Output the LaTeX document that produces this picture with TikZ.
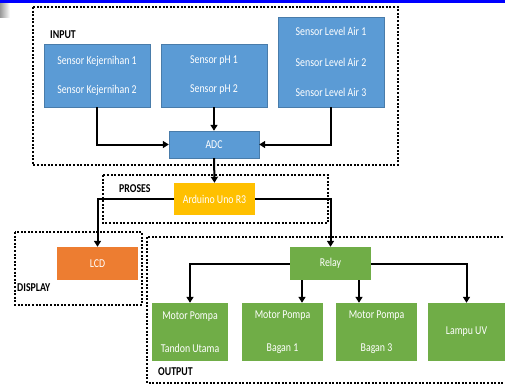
\documentclass[tikz,border=0pt]{standalone}
\usepackage{fontspec}
\setmainfont{Carlito}[FakeStretch=0.82]
\usetikzlibrary{positioning, arrows.meta}
\definecolor{inblue}{HTML}{5B9BD5}
\definecolor{outgreen}{HTML}{70AD47}
\definecolor{lcdorange}{HTML}{ED7D31}
\definecolor{ardyellow}{HTML}{FFC000}
\tikzset{
    font=\fontsize{12}{14}\selectfont,
    block/.style={          % default style for all blocks
        rectangle,
        align=center,
        text=white,
        inner sep=0pt,
    },
    sensor/.style={block, fill=inblue, draw=inblue!80!black, thin},
    outblock/.style={block, fill=outgreen, minimum width=78, minimum height=58},
    group/.style={          % dotted frame around a group
        line width=2pt,
        dash pattern=on 2pt off 1.6pt,
    },
    grouplabel/.style={anchor=west, inner sep=0pt, font=\fontsize{12}{14}\selectfont\bfseries},
    conn/.style={           % default style for all connectors
        draw,
        line width=2pt,
        -{Triangle[length=6pt, width=7pt]}
    }
}
\begin{document}
\begin{tikzpicture}[x=1pt, y=-1pt]
    \clip (0,0) rectangle (505,389);
    \fill[white] (0,0) rectangle (505,389);
    \fill[blue] (0,0) rectangle (505,3);
    \shade[left color=gray!80, right color=white] (0,3) rectangle (10,17);
    % groups
    \draw[group] (33,7) rectangle (398,165);
    \draw[group] (103,175) rectangle (328,223);
    \draw[group] (15,232) rectangle (142,305);
    \draw[group] (147,237) rectangle (512,383);
    \node[grouplabel] (lblin) at (50,35) {INPUT};
    \node[grouplabel] (lblpr) at (119,189) {PROSES};
    \node[grouplabel] (lbldi) at (17,288) {DISPLAY};
    \node[grouplabel] (lblou) at (158,372) {OUTPUT};
    % input
    \node[sensor, minimum width=106, minimum height=63] (kej) at (97,75.5) {Sensor Kejernihan 1\\[15pt]Sensor Kejernihan 2};
    \node[sensor, minimum width=106, minimum height=63] (ph) at (214,75.5) {Sensor pH 1\\[15pt]Sensor pH 2};
    \node[sensor, minimum width=106, minimum height=90] (lvl) at (331,62) {Sensor Level Air 1\\[16.5pt]Sensor Level Air 2\\[16.5pt]Sensor Level Air 3};
    \node[sensor, minimum width=90, minimum height=27] (adc) at (214,144.5) {ADC};
    % proses and display
    \node[block, fill=ardyellow, minimum width=81, minimum height=32] (ard) at (214.5,199) {Arduino Uno R3};
    \node[block, fill=lcdorange, minimum width=81, minimum height=33] (lcd) at (97.5,263.5) {LCD};
    % output
    \node[block, fill=outgreen, minimum width=81, minimum height=33] (relay) at (330.5,263.5) {Relay};
    \node[outblock, minimum width=76] (m1) at (190,332) {Motor Pompa\\[19pt]Tandon Utama};
    \node[outblock, minimum width=81] (m2) at (282.5,332) {Motor Pompa\\[19pt]Bagan 1};
    \node[outblock, minimum width=81] (m3) at (376.5,332) {Motor Pompa\\[19pt]Bagan 3};
    \node[outblock, minimum width=77] (uv) at (466.5,332) {Lampu UV};
    % connectors
    \draw[conn] (kej.south) |- (adc.west);
    \draw[conn] (ph.south) -- (adc.north);
    \draw[conn] (lvl.south) |- (adc.east);
    \draw[conn] (adc.south) -- (ard.north);
    \draw[conn] (ard.west) -| (lcd.north);
    \draw[conn] (ard.east) -| (relay.north);
    \draw[conn] (relay.west) -| (m1.north);
    \draw[conn] (relay.east) -| (uv.north);
    \draw[conn] ([xshift=-28.5pt]relay.south) -- ([xshift=-28.5pt]relay.south |- m2.north);
    \draw[conn] ([xshift=28.5pt]relay.south) -- ([xshift=28.5pt]relay.south |- m3.north);
\end{tikzpicture}
\end{document}
